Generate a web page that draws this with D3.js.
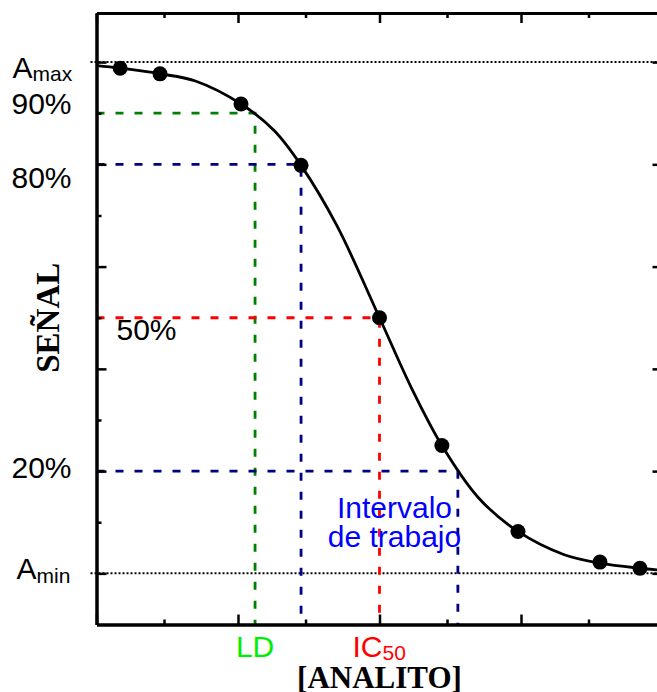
<!DOCTYPE html>
<html>
<head>
<meta charset="utf-8">
<script src="https://cdn.jsdelivr.net/npm/d3@7"></script>
<style>
    body { margin: 0; background: #fff; }
    svg { display: block; }
    .lbl { font-family: "Liberation Sans", Arial, sans-serif; font-size: 30px; }
    .ttl { font-family: "Liberation Serif", "Times New Roman", serif; font-weight: bold; }
    .axis path, .axis line { stroke: #000; }
    .axis path { stroke-width: 3; }
    .axis line { stroke-width: 2.5; }
</style>
</head>
<body>
<div id="curva"></div>
<script>
        // puntos experimentales
        var concData = [1.47, 2.81, 10.5, 27.9, 100, 276, 952, 3614, 6934];
        var signalData = [98.8, 97.7, 91.8, 79.8, 50, 25, 8.2, 2.2, 1.0];

        // curva ajustada
        var fitConc = [1, 1.47, 2.81, 5, 10.5, 18, 27.9, 50, 100, 170, 276, 500, 952, 2000, 3614, 6934, 9146];
        var fitSignal = [99.3, 98.8, 97.7, 96.3, 91.8, 86.6, 79.8, 68.0, 50, 36.0, 25, 14.8, 8.2, 3.7, 2.0, 1.0, 0.7];

        // niveles de referencia: 90% (LD), 80%, 50% (IC50), 20%
        var refSignal = [90, 80, 50, 20];
        var refConc = [13.2, 27.9, 100, 358];
        var refColor = ["#008000", "#000080", "#ff0000", "#000080"];

        var leftLabels = ["90%", "80%", "20%"];
        var leftLabelValues = [90, 80, 20];

        var xMajorTicks = [1, 10, 100, 1000, 10000];
        var xMinorTicks = [3, 30, 300, 3000];
        var yMajorTicks = [0, 20, 40, 60, 80, 100];
        var yMinorTicks = [10, 30, 50, 70, 90];

        var margin = {
                top: 13,
                right: -5.5,
                bottom: 67.5,
                left: 96.5
            },
            width = 657 - margin.left - margin.right,
            height = 692 - margin.top - margin.bottom;

        var x = d3.scaleLog()
            .domain([1, 10000])
            .range([0, width]);

        var y = d3.scaleLinear()
            .domain([-10, 109.6])
            .range([height, 0]);

        var svg = d3.select("#curva").append("svg")
            .attr("width", 657)
            .attr("height", 692)
            .append("g")
            .attr("transform", "translate(" + margin.left + "," + margin.top + ")");

        // lineas punteadas Amax / Amin
        svg.selectAll(".limite")
            .data([100, 0])
            .enter().append("line")
            .attr("class", "limite")
            .attr("x1", -6)
            .attr("x2", width)
            .attr("y1", function (d) { return y(d); })
            .attr("y2", function (d) { return y(d); })
            .attr("stroke", "#000")
            .attr("stroke-width", 2)
            .attr("stroke-dasharray", "2,2");

        // lineas de referencia
        refSignal.forEach(function (s, i) {
            var path = d3.path();
            path.moveTo(0, y(s));
            path.lineTo(x(refConc[i]), y(s));
            path.lineTo(x(refConc[i]), height);
            svg.append("path")
                .attr("d", path.toString())
                .attr("fill", "none")
                .attr("stroke", refColor[i])
                .attr("stroke-width", 2.8)
                .attr("stroke-dasharray", "8,11");
        });

        // ejes (ticks hacia dentro)
        function addAxis(axisFn, values, size, transform) {
            svg.append("g")
                .attr("class", "axis")
                .attr("transform", transform)
                .call(axisFn.tickValues(values).tickSize(-size).tickSizeOuter(0).tickFormat(""));
        }
        addAxis(d3.axisBottom(x), xMajorTicks, 10, "translate(0," + height + ")");
        addAxis(d3.axisBottom(x), xMinorTicks, 5, "translate(0," + height + ")");
        addAxis(d3.axisTop(x), xMajorTicks, 10, "translate(0,0)");
        addAxis(d3.axisTop(x), xMinorTicks, 5, "translate(0,0)");
        addAxis(d3.axisLeft(y), yMajorTicks, 10, "translate(0,0)");
        addAxis(d3.axisLeft(y), yMinorTicks, 5, "translate(0,0)");
        addAxis(d3.axisRight(y), yMajorTicks, 10, "translate(" + width + ",0)");
        addAxis(d3.axisRight(y), yMinorTicks, 5, "translate(" + width + ",0)");

        // curva
        var line = d3.line()
            .x(function (d) { return x(d[0]); })
            .y(function (d) { return y(d[1]); })
            .curve(d3.curveCatmullRom.alpha(0.5));

        svg.append("path")
            .datum(d3.zip(fitConc, fitSignal))
            .attr("d", line)
            .attr("fill", "none")
            .attr("stroke", "#000")
            .attr("stroke-width", 2.8);

        svg.selectAll(".punto")
            .data(d3.zip(concData, signalData))
            .enter().append("circle")
            .attr("class", "punto")
            .attr("cx", function (d) { return x(d[0]); })
            .attr("cy", function (d) { return y(d[1]); })
            .attr("r", 7.5)
            .attr("fill", "#000");

        // etiquetas del eje Y
        var amax = svg.append("text")
            .attr("class", "lbl")
            .attr("x", -84)
            .attr("y", y(100) + 16);
        amax.append("tspan").text("A");
        amax.append("tspan").attr("font-size", "21px").attr("dy", 3).text("max");

        var amin = svg.append("text")
            .attr("class", "lbl")
            .attr("x", -80)
            .attr("y", y(0) + 6);
        amin.append("tspan").text("A");
        amin.append("tspan").attr("font-size", "21px").attr("dy", 4).text("min");

        var labelDy = [1, 24, 7];
        svg.selectAll(".pct")
            .data(leftLabels)
            .enter().append("text")
            .attr("class", "lbl pct")
            .attr("x", -85)
            .attr("y", function (d, i) { return y(leftLabelValues[i]) + labelDy[i]; })
            .text(function (d) { return d; });

        svg.append("text")
            .attr("class", "lbl")
            .attr("x", 20)
            .attr("y", y(50) + 22)
            .text("50%");

        // etiquetas del eje X
        svg.append("text")
            .attr("class", "lbl")
            .attr("x", x(refConc[0]))
            .attr("y", height + 32)
            .attr("text-anchor", "middle")
            .attr("fill", "#00ee00")
            .text("LD");

        var ic = svg.append("text")
            .attr("class", "lbl")
            .attr("x", x(refConc[2]) - 27)
            .attr("y", height + 32)
            .attr("fill", "#ff0000");
        ic.append("tspan").text("IC");
        ic.append("tspan").attr("font-size", "21px").attr("dy", 3).text("50");

        var interv = svg.append("text")
            .attr("class", "lbl")
            .attr("text-anchor", "middle")
            .attr("fill", "#0000ff");
        interv.append("tspan").attr("x", 298).attr("y", y(20) + 47).text("Intervalo");
        interv.append("tspan").attr("x", 298).attr("y", y(20) + 76).text("de trabajo");

        svg.append("text")
            .attr("class", "ttl")
            .attr("x", x(100))
            .attr("y", height + 63)
            .attr("text-anchor", "middle")
            .style("font-size", "31px")
            .text("[ANALITO]");

        svg.append("text")
            .attr("class", "ttl")
            .attr("transform", "translate(-38," + y(50) + ") rotate(-90)")
            .attr("text-anchor", "middle")
            .style("font-size", "33px")
            .text("SEÑAL");
</script>
</body>
</html>
